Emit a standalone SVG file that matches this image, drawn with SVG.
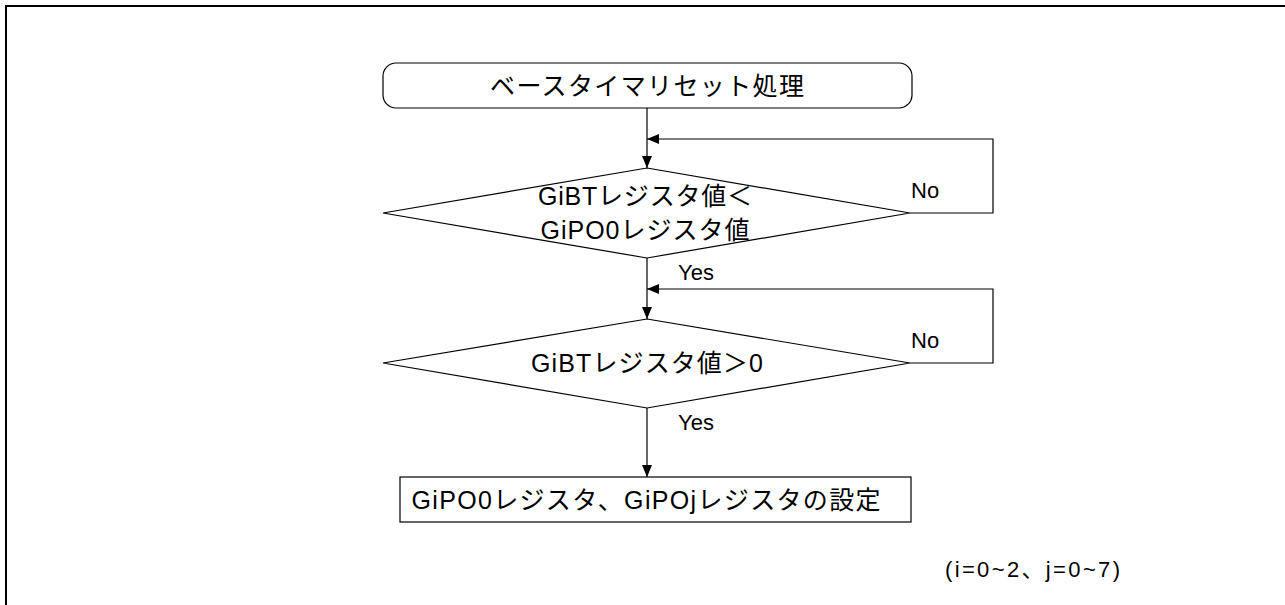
<svg xmlns="http://www.w3.org/2000/svg" width="1285" height="605" viewBox="0 0 1285 605">
<defs>
<style>
.s{fill:none;stroke:#000;stroke-width:1.2}
.n{fill:#fff;stroke:#000;stroke-width:1.2}
.t{font-family:"Liberation Sans","Noto Sans CJK JP",sans-serif;font-size:22px;fill:#000}
.b{font-size:25px}
.c{text-anchor:middle}
</style>
<marker id="ah" markerWidth="12" markerHeight="10" refX="12" refY="5" orient="auto" markerUnits="userSpaceOnUse">
<path d="M0,0 L12,5 L0,10 Z" fill="#000"/>
</marker>
</defs>
<rect width="1285" height="605" fill="#fff"/>
<rect x="6" y="6" width="1300" height="640" fill="none" stroke="#000" stroke-width="2"/>
<g id="connectors">
<path class="s" d="M647,108 V168" marker-end="url(#ah)"/>
<path class="s" d="M910,213 H993 V139 H647" marker-end="url(#ah)"/>
<path class="s" d="M647,258 V319" marker-end="url(#ah)"/>
<path class="s" d="M910,363 H993 V289 H647" marker-end="url(#ah)"/>
<path class="s" d="M647,408 V477" marker-end="url(#ah)"/>
<text class="t" x="911" y="198">No</text>
<text class="t" x="678" y="280">Yes</text>
<text class="t" x="911" y="348">No</text>
<text class="t" x="678" y="430">Yes</text>
</g>
<g id="start">
<rect class="n" x="383" y="63" width="529" height="45" rx="13" ry="13"/>
<text class="t b c" x="647" y="95" textLength="314">ベースタイマリセット処理</text>
</g>
<g id="decision1">
<polygon class="n" points="647,168 910,213 647,258 383,213"/>
<text class="t b c" x="645" y="205" textLength="214">GiBTレジスタ値＜</text>
<text class="t b c" x="645" y="239" textLength="209">GiPO0レジスタ値</text>
</g>
<g id="decision2">
<polygon class="n" points="647,319 910,363 647,408 383,363"/>
<text class="t b c" x="647" y="372" textLength="232">GiBTレジスタ値＞0</text>
</g>
<g id="process">
<rect class="n" x="400" y="477" width="511" height="45"/>
<text class="t b c" x="646" y="509" textLength="469">GiPO0レジスタ、GiPOjレジスタの設定</text>
</g>
<g id="note">
<text class="t" x="945" y="577" font-size="23" textLength="175">(i=0~2、j=0~7)</text>
</g>
</svg>
